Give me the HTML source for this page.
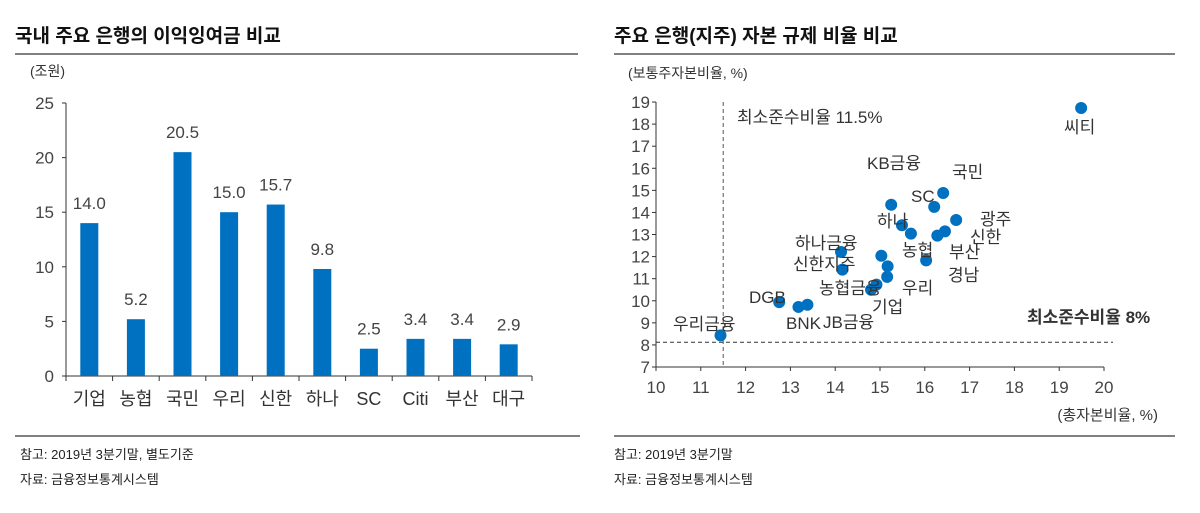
<!DOCTYPE html>
<html><head><meta charset="utf-8"><style>
body{margin:0;background:#fff;width:1200px;height:508px;overflow:hidden;font-family:"Liberation Sans","Noto Sans CJK KR",sans-serif;}
svg text{font-family:"Liberation Sans","Noto Sans CJK KR",sans-serif;}
</style></head><body>
<svg width="1200" height="508">
<text x="15" y="42" font-size="19" font-weight="bold" fill="#111">국내 주요 은행의 이익잉여금 비교</text>
<text x="614" y="42" font-size="19" font-weight="bold" fill="#111">주요 은행(지주) 자본 규제 비율 비교</text>
<line x1="15" y1="54" x2="578" y2="54" stroke="#808080" stroke-width="2"/>
<line x1="614" y1="54" x2="1175" y2="54" stroke="#808080" stroke-width="2"/>
<line x1="15" y1="436" x2="580" y2="436" stroke="#808080" stroke-width="2"/>
<line x1="614" y1="436" x2="1175" y2="436" stroke="#808080" stroke-width="2"/>
<text x="20" y="459" font-size="13" fill="#222">참고: 2019년 3분기말, 별도기준</text>
<text x="20" y="484" font-size="13" fill="#222">자료: 금융정보통계시스템</text>
<text x="614" y="459" font-size="13" fill="#222">참고: 2019년 3분기말</text>
<text x="614" y="484" font-size="13" fill="#222">자료: 금융정보통계시스템</text>
<text x="30" y="76" font-size="14" fill="#333">(조원)</text>
<text x="628" y="78" font-size="14" fill="#333">(보통주자본비율, %)</text>
<text x="1158" y="420" font-size="15" fill="#333" text-anchor="end">(총자본비율, %)</text>
<g id="bar"></g><g id="sc"></g>
</svg>
<script>
const NS="http://www.w3.org/2000/svg";
function mk(p,t,a){const e=document.createElementNS(NS,t);for(const k in a)e.setAttribute(k,a[k]);p.appendChild(e);return e;}
// bar chart data
const barCats=["기업","농협","국민","우리","신한","하나","SC","Citi","부산","대구"];
const barVals=[14.0,5.2,20.5,15.0,15.7,9.8,2.5,3.4,3.4,2.9];
const barTicks=[0,5,10,15,20,25];
const bg=document.getElementById('bar');
const bx0=66,bx1=532,by0=376,by1=103;
const yB=v=>by0-(v/25)*(by0-by1);
const cw=(bx1-bx0)/barCats.length;
mk(bg,'line',{x1:bx0,y1:by1,x2:bx0,y2:by0,stroke:'#333'});
mk(bg,'line',{x1:bx0,y1:by0,x2:bx1,y2:by0,stroke:'#333'});
barTicks.forEach(t=>{mk(bg,'line',{x1:bx0-4,y1:yB(t),x2:bx0,y2:yB(t),stroke:'#333'});
const tx=mk(bg,'text',{x:bx0-12,y:yB(t)+6,'font-size':17,'text-anchor':'end',fill:'#444'});tx.textContent=t;

});
for(let i=0;i<=barCats.length;i++)mk(bg,'line',{x1:bx0+i*cw,y1:by0,x2:bx0+i*cw,y2:by0+5,stroke:'#333'});
barCats.forEach((c,i)=>{const cx=bx0+cw*(i+.5);const v=barVals[i];
const r=mk(bg,'rect',{x:cx-9,y:yB(v),width:18,height:by0-yB(v),fill:'#0070c0'});


const l=mk(bg,'text',{x:cx,y:yB(v)-14,'font-size':17,'text-anchor':'middle',fill:'#444'});l.textContent=v.toFixed(1);


const xl=mk(bg,'text',{x:cx,y:by0+29,'font-size':18,'text-anchor':'middle',fill:'#333'});xl.textContent=c;

});
// scatter data
const scNames=["씨티","국민","SC","KB금융","광주","하나","신한","부산","농협","경남","하나금융","신한지주","A","B","C","농협금융","D","DGB","BNK","JB금융","우리금융"];
const scX=[19.49,16.41,16.21,15.25,16.70,15.49,16.45,16.28,15.69,16.03,14.13,14.16,15.03,15.17,15.16,14.92,14.80,12.75,13.18,13.38,11.44];
const scY=[18.73,14.88,14.25,14.35,13.66,13.42,13.14,12.95,13.04,11.83,12.21,11.41,12.04,11.56,11.08,10.73,10.50,9.94,9.72,9.82,8.43];
const xTicks=[10,11,12,13,14,15,16,17,18,19,20];
const yTicks=[7,8,9,10,11,12,13,14,15,16,17,18,19];
const sg=document.getElementById('sc');
const sx=v=>656+(v-10)*44.8, sy=v=>367-(v-7)*22.08;
mk(sg,'line',{x1:sx(10),y1:sy(19),x2:sx(10),y2:sy(7),stroke:'#333'});
mk(sg,'line',{x1:sx(10),y1:sy(7),x2:sx(20),y2:sy(7),stroke:'#333'});
yTicks.forEach(t=>{mk(sg,'line',{x1:sx(10)-4,y1:sy(t),x2:sx(10),y2:sy(t),stroke:'#333'});
const tx=mk(sg,'text',{x:sx(10)-6,y:sy(t)+6,'font-size':17,'text-anchor':'end',fill:'#444'});tx.textContent=t;

});
xTicks.forEach(t=>{mk(sg,'line',{x1:sx(t),y1:sy(7),x2:sx(t),y2:sy(7)+4,stroke:'#333'});
const tx=mk(sg,'text',{x:sx(t),y:sy(7)+26,'font-size':17,'text-anchor':'middle',fill:'#444'});tx.textContent=t;

});
mk(sg,'line',{x1:sx(11.5),y1:sy(19),x2:sx(11.5),y2:sy(7),stroke:'#555','stroke-dasharray':'4,3'});
mk(sg,'line',{x1:sx(10),y1:sy(8.12),x2:1113,y2:sy(8.12),stroke:'#333','stroke-dasharray':'4,3'});
scX.forEach((x,i)=>{const c=mk(sg,'circle',{cx:sx(x),cy:sy(scY[i]),r:6,fill:'#0070c0'});

});
const labs=[["최소준수비율 11.5%",737,123],["씨티",1064,133],["KB금융",867,169],["국민",952,178],["SC",911,202],["광주",980,225],["하나",877,227],["신한",970,243],["부산",949,258],["농협",902,256],["경남",948,281],["하나금융",795,249],["신한지주",793,270],["농협금융",819,294],["우리",902,294],["기업",872,313],["DGB",749,303],["BNK",786,329],["JB금융",823,328],["우리금융",673,330],["최소준수비율 8%",1027,323]];
labs.forEach(l=>{const t=mk(sg,'text',{x:l[1],y:l[2],'font-size':17,fill:'#333'});t.textContent=l[0];
if(l[0].indexOf('8%')>0)t.setAttribute('font-weight','bold');

});
</script>
</body></html>
